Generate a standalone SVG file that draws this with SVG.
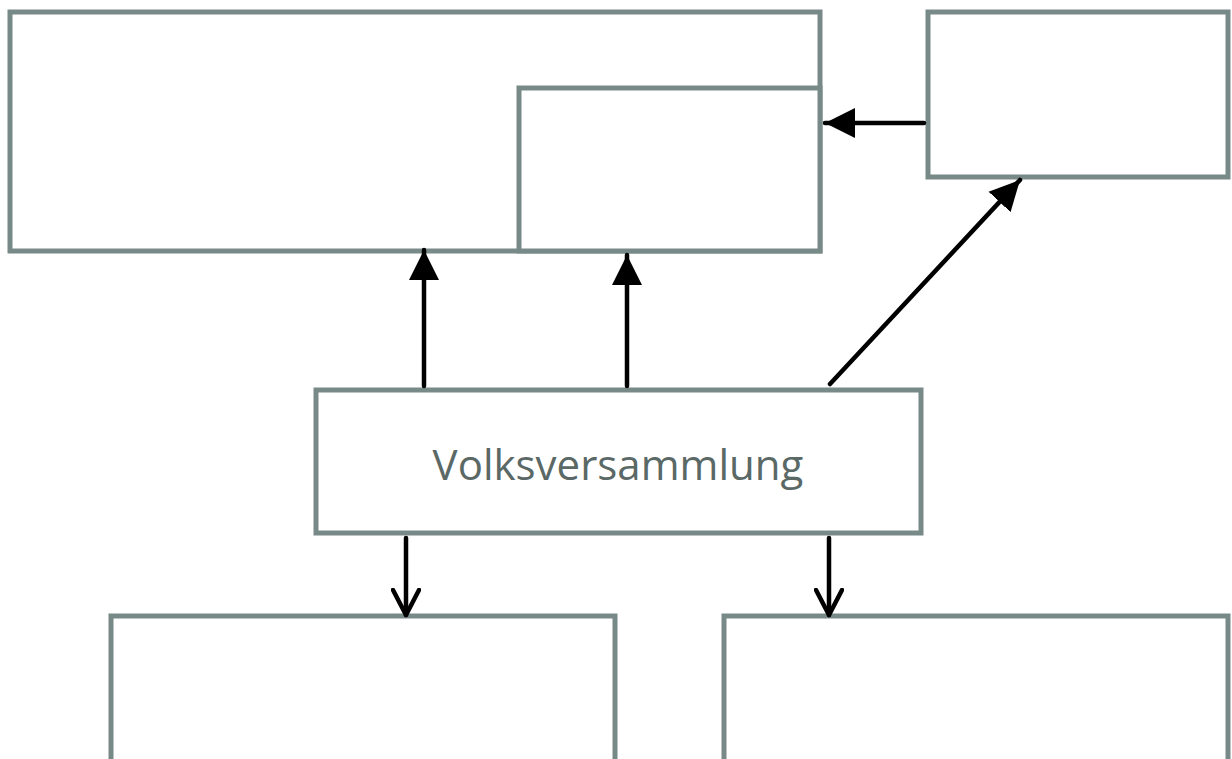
<svg xmlns="http://www.w3.org/2000/svg" width="1232" height="759" viewBox="0 0 1232 759">
<style>
.box{fill:#fff;stroke:#788a88;stroke-width:5}
.ln{stroke:#000;stroke-width:4.5;fill:none;stroke-linecap:round}
.lbl{font-family:"Open Sans",sans-serif;font-size:42px;fill:#5a6866;text-anchor:middle}
</style>
<defs>
<marker id="tri" markerUnits="userSpaceOnUse" markerWidth="32" markerHeight="32" viewBox="0 0 32 32" refX="30" refY="16" orient="auto">
<path d="M0,1 L30,16 L0,31 Z" fill="#000"/>
</marker>
<marker id="vee" markerUnits="userSpaceOnUse" markerWidth="30" markerHeight="30" viewBox="0 0 30 30" refX="27" refY="15" orient="auto">
<path d="M2,2 L27,15 L2,28" fill="none" stroke="#000" stroke-width="4.5" stroke-linecap="round" stroke-linejoin="round"/>
</marker>
</defs>
<g id="node-top-large"><rect class="box" x="10" y="12" width="810" height="239"/></g>
<g id="node-top-inner"><rect class="box" x="519" y="88" width="301" height="163"/></g>
<g id="node-top-right"><rect class="box" x="928" y="12" width="300" height="165"/></g>
<g id="node-volksversammlung"><rect class="box" x="316" y="390" width="605" height="143"/><text class="lbl" x="618" y="480">Volksversammlung</text></g>
<g id="node-bottom-left"><rect class="box" x="111" y="616" width="504" height="160"/></g>
<g id="node-bottom-right"><rect class="box" x="724" y="616" width="504" height="160"/></g>
<g id="connectors">
<line class="ln" x1="424" y1="386" x2="424" y2="250" marker-end="url(#tri)"/>
<line class="ln" x1="627" y1="386" x2="627" y2="255" marker-end="url(#tri)"/>
<line class="ln" x1="924" y1="123" x2="825" y2="123" marker-end="url(#tri)"/>
<line class="ln" x1="830" y1="384" x2="1020" y2="180" marker-end="url(#tri)"/>
<line class="ln" x1="406" y1="538" x2="406" y2="615" marker-end="url(#vee)"/>
<line class="ln" x1="829" y1="538" x2="829" y2="615" marker-end="url(#vee)"/>
</g>
</svg>
